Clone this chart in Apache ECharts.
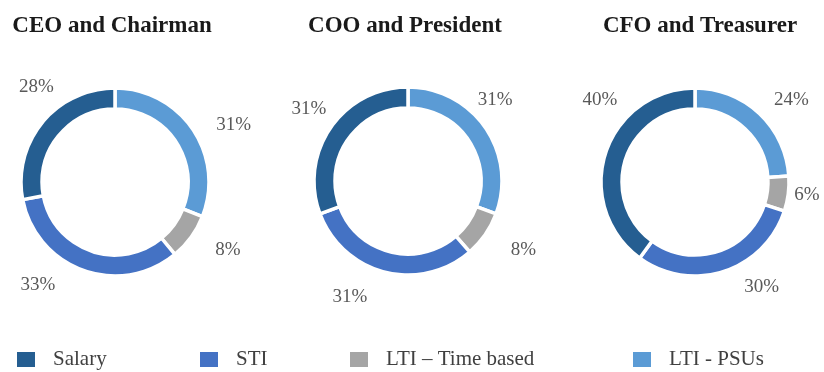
<!DOCTYPE html>
<html>
<head>
<meta charset="utf-8">
<script src="https://cdn.jsdelivr.net/npm/echarts@6/dist/echarts.min.js"></script>
<style>
html,body{margin:0;padding:0;background:#fff;}
#chart{width:824px;height:372px;}
</style>
</head>
<body>
<div id="chart"></div>
<script>
const categories = ['Salary', 'STI', 'LTI – Time based', 'LTI - PSUs'];
const titles = ['CEO and Chairman', 'COO and President', 'CFO and Treasurer'];
const ceoValues = [28, 33, 8, 31];
const cooValues = [31, 31, 8, 31];
const cfoValues = [40, 30, 6, 24];
const colors = ['#255E91', '#4472C4', '#A5A5A5', '#5B9BD5'];

const valueSets = [ceoValues, cooValues, cfoValues];
const centers = [[115, 182], [408, 181], [695, 182]];
const titleCenters = [107, 400, 695];
const legendLefts = [10, 193, 343, 626];
// manual nudges of the data labels (label styling, in pie drawing order)
const labelNudges = [
  [[-3, 4], [-2, 5], [-8, 1], [37, -26]],
  [[-34, -19], [-1, 7], [1, 11], [22, -10]],
  [[-10, -3], [-23, -1], [1, 2], [40, -49]]
];
const serif = '"Liberation Serif", "DejaVu Serif", serif';

const chart = echarts.init(document.getElementById('chart'), null, {renderer: 'canvas'});

// pie draws clockwise from 12 o'clock: PSUs, Time based, STI, Salary
const order = [3, 2, 1, 0];

const series = valueSets.map((vals, s) => ({
  type: 'pie',
  center: centers[s],
  radius: [73, 94],
  startAngle: 90,
  clockwise: true,
  avoidLabelOverlap: false,
  itemStyle: {borderColor: '#fff', borderWidth: 3.5},
  label: {
    show: true,
    position: 'outside',
    formatter: '{c}%',
    color: '#595959',
    fontFamily: serif,
    fontSize: 19
  },
  labelLine: {show: false, length: 14, length2: 10},
  labelLayout: function (p) {
    const n = labelNudges[s][p.dataIndex];
    return {dx: n[0], dy: n[1]};
  },
  emphasis: {disabled: true},
  data: order.map(i => ({name: categories[i], value: vals[i], itemStyle: {color: colors[i]}}))
}));

const legendText = {fontFamily: serif, fontSize: 21, color: '#404040', padding: [0, 0, 0, 12]};

const option = {
  animation: false,
  backgroundColor: '#fff',
  textStyle: {fontFamily: serif},
  title: titles.map((t, s) => ({
    text: t,
    left: titleCenters[s],
    top: 10,
    textAlign: 'center',
    textStyle: {fontFamily: serif, fontWeight: 'bold', fontSize: 23, color: '#1a1a1a'}
  })),
  legend: categories.map((c, i) => ({
    data: [c],
    left: legendLefts[i],
    top: 344,
    itemWidth: 20,
    itemHeight: 17,
    icon: 'rect',
    selectedMode: false,
    formatter: '{t|{name}}',
    textStyle: {fontFamily: serif, fontSize: 21, color: '#404040', rich: {t: legendText}}
  })),
  series: series
};
chart.setOption(option);
</script>
</body>
</html>
